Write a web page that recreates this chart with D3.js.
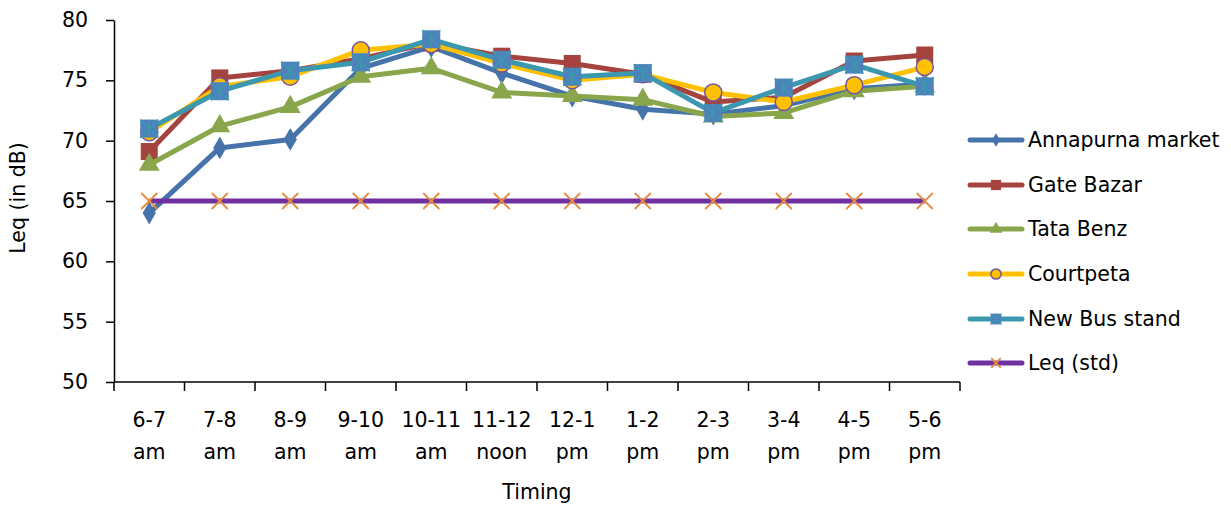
<!DOCTYPE html>
<html><head><meta charset="utf-8">
<script src="https://cdn.jsdelivr.net/npm/d3@7/dist/d3.min.js"></script>
<style>body{margin:0;background:#fff}text{font-family:"DejaVu Sans",sans-serif;fill:#000}</style>
</head><body><svg id="c" width="1231" height="506"></svg>
<script>
const categories = [["6-7","am"],["7-8","am"],["8-9","am"],["9-10","am"],["10-11","am"],["11-12","noon"],["12-1","pm"],["1-2","pm"],["2-3","pm"],["3-4","pm"],["4-5","pm"],["5-6","pm"]];
const annapurna = [64.0, 69.4, 70.1, 76.0, 77.8, 75.6, 73.7, 72.6, 72.2, 72.9, 74.3, 74.7];
const gateBazar = [69.1, 75.2, 75.8, 76.8, 78.1, 77.0, 76.4, 75.5, 73.2, 73.6, 76.6, 77.1];
const tataBenz = [68.0, 71.2, 72.8, 75.3, 76.0, 74.0, 73.7, 73.4, 72.0, 72.3, 74.1, 74.5];
const courtpeta = [70.7, 74.5, 75.3, 77.5, 78.0, 76.4, 75.0, 75.5, 74.0, 73.2, 74.6, 76.1];
const newBusStand = [71.0, 74.1, 75.8, 76.5, 78.4, 76.7, 75.3, 75.6, 72.3, 74.4, 76.3, 74.5];
const leqStd = [65, 65, 65, 65, 65, 65, 65, 65, 65, 65, 65, 65];
const yTicks = [50, 55, 60, 65, 70, 75, 80];

const seriesList = [
  {name:"Annapurna market", values:annapurna, line:"#4573AA", marker:"diamond"},
  {name:"Gate Bazar", values:gateBazar, line:"#A5443F", marker:"square"},
  {name:"Tata Benz", values:tataBenz, line:"#8AA64C", marker:"triangle"},
  {name:"Courtpeta", values:courtpeta, line:"#FFC000", marker:"circle"},
  {name:"New Bus stand", values:newBusStand, line:"#3C98AE", marker:"asterisk"},
  {name:"Leq (std)", values:leqStd, line:"#7030A0", marker:"x"}
];

const FONT = "DejaVu Sans";
const FS = 20.5;
const svg = d3.select("#c");
const L = 114, R = 960, T = 20, B = 382;
const x = d3.scaleBand().domain(categories.map((c,i)=>i)).range([L,R]);
const y = d3.scaleLinear().domain([50,80]).range([B,T]);

// y axis
const ya = svg.append("g").attr("transform",`translate(${L},0)`)
  .call(d3.axisLeft(y).tickValues(yTicks).tickSize(8).tickPadding(18).tickSizeOuter(0));
ya.select(".domain").attr("stroke","#000").attr("stroke-width",1.5);
ya.selectAll(".tick line").attr("stroke","#000").attr("stroke-width",1.5);
ya.selectAll(".tick text").attr("font-size",FS).attr("font-family",FONT).attr("fill","#000");

// x axis
const xa = svg.append("g").attr("transform",`translate(0,${B})`);
xa.append("line").attr("x1",L).attr("x2",R).attr("stroke","#000").attr("stroke-width",1.5);
const edges = categories.map((c,i)=>x(i)).concat([R]);
xa.selectAll("line.tk").data(edges).join("line").attr("class","tk")
  .attr("x1",d=>d).attr("x2",d=>d).attr("y1",0).attr("y2",9).attr("stroke","#000").attr("stroke-width",1.5);
const xl = xa.selectAll("text.lb").data(categories).join("text").attr("class","lb")
  .attr("text-anchor","middle").attr("font-size",FS)
  .attr("transform",(d,i)=>`translate(${x(i)+x.bandwidth()/2},0)`);
xl.append("tspan").attr("x",0).attr("y",45).text(d=>d[0]);
xl.append("tspan").attr("x",0).attr("y",77).text(d=>d[1]);

svg.append("text").attr("x",537).attr("y",499).attr("text-anchor","middle").attr("font-size",FS).text("Timing");
svg.append("text").attr("transform","translate(25,198) rotate(-90)").attr("text-anchor","middle").attr("font-size",FS).text("Leq (in dB)");

function drawMarker(g, type, s){
  if(type==="diamond"){
    g.append("path").attr("d",d3.symbol(d3.symbolDiamond, 150*s*s)()).attr("fill","#4573AA");
  } else if(type==="square"){
    g.append("rect").attr("x",-8.5*s).attr("y",-8.5*s).attr("width",17*s).attr("height",17*s).attr("fill","#A5443F");
  } else if(type==="triangle"){
    g.append("path").attr("d",d3.symbol(d3.symbolTriangle, 190*s*s)()).attr("fill","#8AA64C");
  } else if(type==="circle"){
    g.append("circle").attr("r",8.5*s).attr("fill","#FFC000").attr("stroke","#7456A0").attr("stroke-width",1.5);
  } else if(type==="asterisk"){
    const h = 9*s;
    g.append("rect").attr("x",-h).attr("y",-h).attr("width",2*h).attr("height",2*h).attr("fill","#4F81BD");
    const a = g.append("g").attr("stroke","#3C98AE").attr("stroke-width",1.6*s);
    a.append("line").attr("x1",-h).attr("y1",-h).attr("x2",h).attr("y2",h);
    a.append("line").attr("x1",-h).attr("y1",h).attr("x2",h).attr("y2",-h);
    a.append("line").attr("x1",0).attr("y1",-h).attr("x2",0).attr("y2",h);
  } else if(type==="x"){
    const h = 8*s;
    const a = g.append("g").attr("stroke","#E58A3F").attr("stroke-width",1.8);
    a.append("line").attr("x1",-h).attr("y1",-h).attr("x2",h).attr("y2",h);
    a.append("line").attr("x1",-h).attr("y1",h).attr("x2",h).attr("y2",-h);
  }
}

const line = d3.line().x((d,i)=>x(i)+x.bandwidth()/2).y(d=>y(d));
seriesList.forEach(s=>{
  const g = svg.append("g");
  g.append("path").datum(s.values).attr("d",line).attr("fill","none").attr("stroke",s.line)
    .attr("stroke-width",5).attr("stroke-linejoin","round");
  s.values.forEach((v,i)=>{
    const m = g.append("g").attr("transform",`translate(${x(i)+x.bandwidth()/2},${y(v)})`);
    drawMarker(m, s.marker, 1);
  });
});

// legend
const legY = [140, 185, 229, 274, 319, 363];
seriesList.forEach((s,k)=>{
  const g = svg.append("g").attr("transform",`translate(0,${legY[k]})`);
  g.append("line").attr("x1",970).attr("x2",1022).attr("stroke",s.line).attr("stroke-width",5).attr("stroke-linecap","round");
  const m = g.append("g").attr("transform","translate(996,0)");
  drawMarker(m, s.marker, 0.6);
  g.append("text").attr("x",1028).attr("y",7).attr("font-size",FS).text(s.name);
});
</script></body></html>
